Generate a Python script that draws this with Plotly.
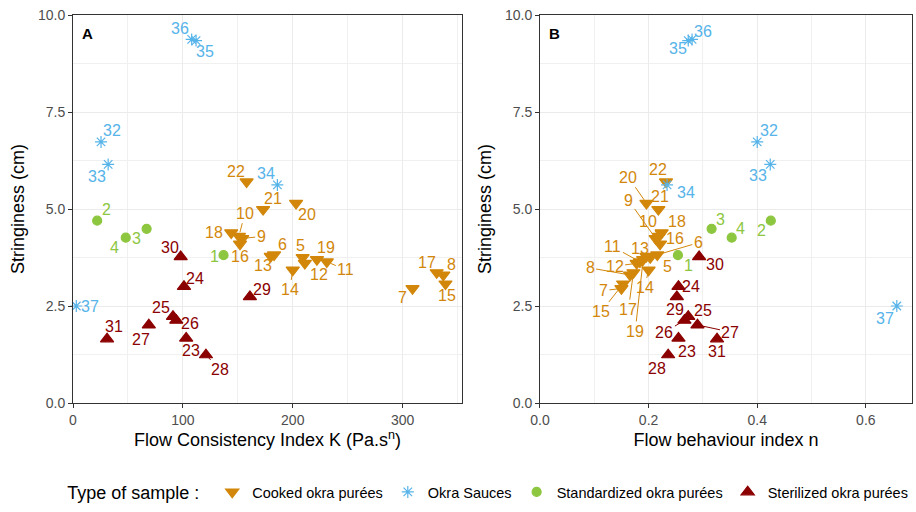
import plotly.graph_objects as go

# ---------------- data ----------------
cooked_ids = [5, 6, 7, 8, 9, 10, 11, 12, 13, 14, 15, 16, 17, 18, 19, 20, 21, 22]
cooked_K = [209, 183, 309, 337, 154, 151, 231, 211, 180, 200, 339, 152, 331, 144, 222, 203, 173, 158]
cooked_n = [0.203, 0.216, 0.150, 0.166, 0.213, 0.219, 0.184, 0.178, 0.196, 0.200, 0.153, 0.221, 0.172, 0.224, 0.190, 0.196, 0.218, 0.232]
cooked_S = [3.75, 3.82, 2.95, 3.30, 4.24, 4.30, 3.64, 3.60, 3.78, 3.43, 3.07, 4.10, 3.36, 4.39, 3.70, 5.15, 4.99, 5.70]

sauce_ids = [32, 33, 34, 35, 36, 37]
sauce_K = [25.5, 32, 186, 112, 108, 3]
sauce_n = [0.400, 0.424, 0.234, 0.273, 0.280, 0.657]
sauce_S = [6.73, 6.15, 5.62, 9.34, 9.37, 2.50]

std_ids = [1, 2, 3, 4]
std_K = [137, 22, 67, 48]
std_n = [0.254, 0.425, 0.316, 0.353]
std_S = [3.81, 4.70, 4.49, 4.26]

ster_ids = [23, 24, 25, 26, 27, 28, 29, 30, 31]
ster_K = [103, 101, 91, 94, 69, 121, 161, 98, 31]
ster_n = [0.255, 0.255, 0.273, 0.266, 0.290, 0.236, 0.252, 0.293, 0.326]
ster_S = [1.67, 3.00, 2.23, 2.13, 2.01, 1.24, 2.74, 3.77, 1.65]

group_names = ["Cooked okra purées", "Okra Sauces", "Standardized okra purées", "Sterilized okra purées"]

# ---------------- styles / label placement ----------------
colors = ["#D2870B", "#56B4E9", "#8DC63F", "#8B0000"]
symbols = ["triangle-down", "asterisk-open", "circle", "triangle-up"]
sizes = [11.5, 10, 9, 11.5]
FONT = "Liberation Sans, Arial, sans-serif"

OFF_A = {36: (-12, -11), 35: (9, 11), 32: (11, -11), 33: (-11, 12), 34: (-11, -11), 37: (14, 0),
         2: (9, -11), 4: (-11, 10), 3: (-10, 10), 1: (-9, 1),
         16: (0, 13), 18: (-17, 0), 10: (6, -23), 9: (19, -2), 22: (-11, -10), 21: (10, -11), 20: (11, 11),
         6: (8, -10), 13: (-8, 9), 5: (-2, -12), 19: (9, -12), 12: (14, 11), 11: (19, 8), 14: (-3, 20),
         7: (-10, 9), 17: (-10, -10), 8: (8, -10), 15: (2, 12),
         30: (-11, -9), 24: (11, -8), 29: (12, -7), 25: (-12, -9), 26: (14, 3), 27: (-8, 14), 31: (7, -12),
         23: (5, 12), 28: (14, 15)}
SEG_A = {9, 10, 11, 14, 28}

OFF_B = {36: (11, -8), 35: (-10, 8), 32: (12, -11), 33: (-12, 11), 34: (19, 8), 37: (-12, 12),
         3: (9, -9), 4: (9, -9), 2: (-9, 10), 1: (11, 10), 30: (16, 8),
         22: (-8, -12), 21: (2, -13), 20: (-18, -26), 9: (-27, -38), 10: (-11, -15), 18: (15, -11), 16: (15, -5),
         6: (41, -12), 13: (-6, -8), 11: (-27, -15), 5: (17, 9), 12: (-22, 3), 8: (-40, -7), 7: (-18, 2),
         15: (-22, 28), 17: (-5, 37), 14: (-4, 18), 19: (-8, 72),
         24: (13, 0), 29: (-2, 13), 25: (15, -6), 26: (-20, 12), 27: (33, 7), 31: (0, 13), 23: (9, 13), 28: (-11, 14)}
SEG_B = {20, 9, 10, 6, 11, 12, 8, 7, 15, 17, 14, 19, 26, 27}

groups = [
    (cooked_ids, cooked_K, cooked_n, cooked_S),
    (sauce_ids, sauce_K, sauce_n, sauce_S),
    (std_ids, std_K, std_n, std_S),
    (ster_ids, ster_K, ster_n, ster_S),
]

fig = go.Figure()
annotations = []

for gi, (ids, K, n, S) in enumerate(groups):
    col = colors[gi]
    mk = dict(color=col, symbol=symbols[gi], size=sizes[gi], line=dict(color=col, width=1.2))
    fig.add_trace(go.Scatter(x=K, y=S, mode="markers", marker=mk, name=group_names[gi],
                             legendgroup=group_names[gi], showlegend=True, cliponaxis=False,
                             xaxis="x", yaxis="y"))
    fig.add_trace(go.Scatter(x=n, y=S, mode="markers", marker=mk, name=group_names[gi],
                             legendgroup=group_names[gi], showlegend=False, cliponaxis=False,
                             xaxis="x2", yaxis="y2"))
    for i, sid in enumerate(ids):
        for (xv, xr, yr, off, seg) in ((K[i], "x", "y", OFF_A, SEG_A), (n[i], "x2", "y2", OFF_B, SEG_B)):
            dx, dy = off[sid]
            annotations.append(dict(
                x=xv, y=S[i], xref=xr, yref=yr, text=str(sid), showarrow=True,
                ax=dx, ay=dy, arrowhead=0, arrowwidth=1, standoff=4,
                arrowcolor=col if sid in seg else "rgba(0,0,0,0)",
                font=dict(color=col, size=16, family=FONT)))

annotations.append(dict(text="<b>A</b>", x=0.018, y=0.953, xref="x domain", yref="y domain",
                        xanchor="left", yanchor="middle", showarrow=False,
                        font=dict(size=15, color="black", family=FONT)))
annotations.append(dict(text="<b>B</b>", x=0.018, y=0.953, xref="x2 domain", yref="y2 domain",
                        xanchor="left", yanchor="middle", showarrow=False,
                        font=dict(size=15, color="black", family=FONT)))

axis_common = dict(showline=True, mirror=True, linecolor="#333333", linewidth=1,
                   ticks="outside", ticklen=4, tickcolor="#333333", automargin=False,
                   showgrid=True, gridcolor="#EBEBEB", gridwidth=1, zeroline=False,
                   tickfont=dict(size=14, color="#4D4D4D", family=FONT),
                   title_font=dict(size=18, color="black", family=FONT))

minor_x_A = dict(showgrid=True, gridcolor="#F0F0F0", gridwidth=0.7, dtick=50, tick0=0)
minor_x_B = dict(showgrid=True, gridcolor="#F0F0F0", gridwidth=0.7, dtick=0.1, tick0=0)
minor_y = dict(showgrid=True, gridcolor="#F0F0F0", gridwidth=0.7, dtick=1.25, tick0=0)

fig.update_layout(
    width=916, height=512,
    margin=dict(l=73, r=4, t=15, b=109, autoexpand=False),
    paper_bgcolor="white", plot_bgcolor="white",
    font=dict(family=FONT),
    xaxis=dict(domain=[0, 0.4636], range=[0, 354], dtick=100, tick0=0, tickformat="d",
               title=dict(text="Flow Consistency Index K (Pa.s<sup>n</sup>)", standoff=6),
               minor=minor_x_A, anchor="y", **axis_common),
    yaxis=dict(domain=[0, 1], range=[0, 10], dtick=2.5, tick0=0, tickformat=".1f",
               title=dict(text="Stringiness (cm)", standoff=8), minor=minor_y, anchor="x", **axis_common),
    xaxis2=dict(domain=[0.5566, 1.0], range=[0, 0.685], dtick=0.2, tick0=0, tickformat=".1f",
                title=dict(text="Flow behaviour index n", standoff=6),
                minor=minor_x_B, anchor="y2", **axis_common),
    yaxis2=dict(domain=[0, 1], range=[0, 10], dtick=2.5, tick0=0, tickformat=".1f",
                title=dict(text="Stringiness (cm)", standoff=8), minor=minor_y, anchor="x2", **axis_common),
    annotations=annotations,
    legend=dict(orientation="h", x=0.496, xanchor="center", y=-0.232, yanchor="middle",
                title=dict(text="Type of sample : ", font=dict(size=18, color="black", family=FONT)),
                font=dict(size=14.5, color="black", family=FONT), itemwidth=30, tracegroupgap=0),
    showlegend=True,
)

fig.write_html("out.html", config={"displayModeBar": False},
               post_script="document.body.style.margin='0';")
